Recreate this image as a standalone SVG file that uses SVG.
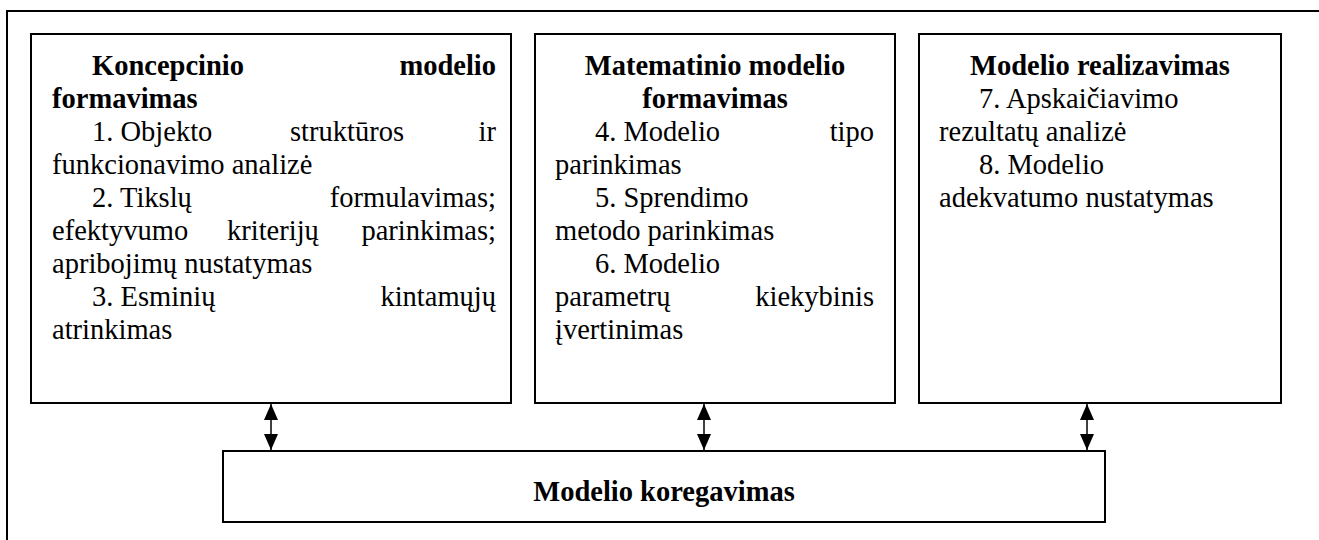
<svg xmlns="http://www.w3.org/2000/svg" width="1319" height="540" viewBox="0 0 1319 540">
<style>
  .box { fill: #ffffff; stroke: #000000; stroke-width: 2; }
  .frame { fill: none; stroke: #000000; stroke-width: 2; }
  .t { font-family: 'Liberation Serif', 'Times New Roman', 'DejaVu Serif', serif; font-size: 28.5px; fill: #000000; }
  .b { font-weight: bold; }
  .e { text-anchor: end; }
  .m { text-anchor: middle; }
  .conn { stroke: #000000; stroke-width: 1.5; fill: none; }
</style>
<defs>
  <marker id="ah" viewBox="0 0 16 14" refX="16" refY="7" markerWidth="16" markerHeight="14" markerUnits="userSpaceOnUse" orient="auto-start-reverse">
    <path d="M0,0 L16,7 L0,14 Z" fill="#000000"/>
  </marker>
</defs>
<rect width="1319" height="540" fill="#ffffff"/>
<path class="frame" d="M7,540 V11 H1319"/>

<g id="node-koncepcinio">
  <rect class="box" x="31" y="34" width="480" height="369"/>
  <text class="t b" x="92" y="75">Koncepcinio</text>
  <text class="t b e" x="496" y="75">modelio</text>
  <text class="t b" x="52" y="108">formavimas</text>
  <text class="t" x="92" y="141">1. Objekto</text>
  <text class="t" x="290" y="141">struktūros</text>
  <text class="t e" x="496" y="141">ir</text>
  <text class="t" x="52" y="174">funkcionavimo analizė</text>
  <text class="t" x="92" y="207">2. Tikslų</text>
  <text class="t e" x="496" y="207">formulavimas;</text>
  <text class="t" x="52" y="240">efektyvumo</text>
  <text class="t" x="227" y="240">kriterijų</text>
  <text class="t e" x="496" y="240">parinkimas;</text>
  <text class="t" x="52" y="273">apribojimų nustatymas</text>
  <text class="t" x="92" y="306">3. Esminių</text>
  <text class="t e" x="496" y="306">kintamųjų</text>
  <text class="t" x="52" y="339">atrinkimas</text>
</g>

<g id="node-matematinio">
  <rect class="box" x="535" y="34" width="360" height="369"/>
  <text class="t b m" x="715" y="75">Matematinio modelio</text>
  <text class="t b m" x="715" y="108">formavimas</text>
  <text class="t" x="595" y="141">4. Modelio</text>
  <text class="t e" x="874" y="141">tipo</text>
  <text class="t" x="555" y="174">parinkimas</text>
  <text class="t" x="595" y="207">5. Sprendimo</text>
  <text class="t" x="555" y="240">metodo parinkimas</text>
  <text class="t" x="595" y="273">6. Modelio</text>
  <text class="t" x="555" y="306">parametrų</text>
  <text class="t e" x="874" y="306">kiekybinis</text>
  <text class="t" x="555" y="339">įvertinimas</text>
</g>

<g id="node-realizavimas">
  <rect class="box" x="919" y="34" width="362" height="369"/>
  <text class="t b m" x="1100" y="75">Modelio realizavimas</text>
  <text class="t" x="979" y="108">7. Apskaičiavimo</text>
  <text class="t" x="939" y="141">rezultatų analizė</text>
  <text class="t" x="979" y="174">8. Modelio</text>
  <text class="t" x="939" y="207">adekvatumo nustatymas</text>
</g>

<g id="node-koregavimas">
  <rect class="box" x="223" y="451" width="882" height="71"/>
  <text class="t b m" x="664" y="501">Modelio koregavimas</text>
</g>

<g id="connectors">
  <line class="conn" x1="271" y1="427" x2="271" y2="404" marker-end="url(#ah)"/>
  <line class="conn" x1="271" y1="427" x2="271" y2="450" marker-end="url(#ah)"/>
  <line class="conn" x1="704" y1="427" x2="704" y2="404" marker-end="url(#ah)"/>
  <line class="conn" x1="704" y1="427" x2="704" y2="450" marker-end="url(#ah)"/>
  <line class="conn" x1="1087" y1="427" x2="1087" y2="404" marker-end="url(#ah)"/>
  <line class="conn" x1="1087" y1="427" x2="1087" y2="450" marker-end="url(#ah)"/>
</g>
</svg>
